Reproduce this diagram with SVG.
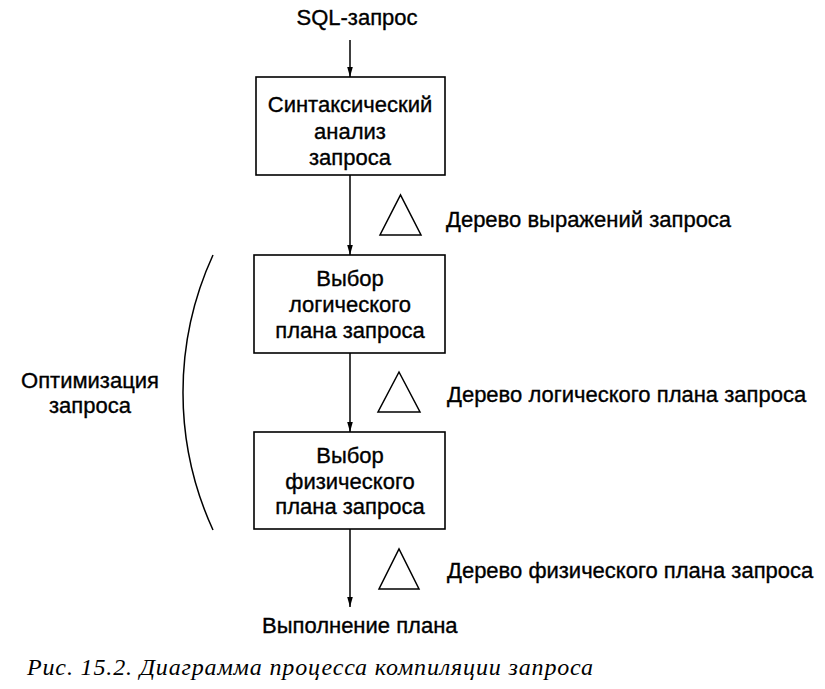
<svg xmlns="http://www.w3.org/2000/svg" width="825" height="689" viewBox="0 0 825 689">
<style>
  .box { fill: #fff; stroke: #000; stroke-width: 1.6; }
  .t { font-family: "Liberation Sans", Arial, sans-serif; font-size: 22px; fill: #000; stroke: #000; stroke-width: 0.35; }
  .c { text-anchor: middle; }
  .edge { stroke: #000; stroke-width: 1.5; fill: none; }
  .tri { fill: #fff; stroke: #000; stroke-width: 1.5; stroke-linejoin: miter; }
  .cap { font-family: "Liberation Serif", "Times New Roman", serif; font-style: italic; font-size: 24px; fill: #000; }
</style>
<defs>
  <marker id="arr" markerUnits="userSpaceOnUse" markerWidth="10" markerHeight="16" refX="15" refY="5" orient="auto" viewBox="0 0 15 10">
    <path d="M0,0.8 L15,5 L0,9.2 Z" fill="#000"/>
  </marker>
</defs>
<rect width="825" height="689" fill="#fff"/>

<g id="connectors">
  <line class="edge" x1="350" y1="40" x2="350" y2="77" marker-end="url(#arr)"/>
  <line class="edge" x1="350" y1="175" x2="350" y2="255" marker-end="url(#arr)"/>
  <line class="edge" x1="350" y1="353" x2="350" y2="432" marker-end="url(#arr)"/>
  <line class="edge" x1="350" y1="529" x2="350" y2="607" marker-end="url(#arr)"/>
</g>

<g id="input">
  <text class="t c" x="357" y="25">SQL-запрос</text>
</g>

<g id="parse">
  <rect class="box" x="256" y="77" width="189" height="98"/>
  <text class="t c" x="350" y="112">Синтаксический</text>
  <text class="t c" x="350" y="139">анализ</text>
  <text class="t c" x="350" y="165">запроса</text>
</g>

<g id="logical">
  <rect class="box" x="254" y="255" width="191" height="98"/>
  <text class="t c" x="350" y="286">Выбор</text>
  <text class="t c" x="350" y="312">логического</text>
  <text class="t c" x="350" y="338">плана запроса</text>
</g>

<g id="physical">
  <rect class="box" x="254" y="432" width="191" height="97"/>
  <text class="t c" x="350" y="463">Выбор</text>
  <text class="t c" x="350" y="489">физического</text>
  <text class="t c" x="350" y="514">плана запроса</text>
</g>

<g id="execute">
  <text class="t" x="262" y="633">Выполнение плана</text>
</g>

<g id="tree1">
  <polygon class="tri" points="380,235 421,235 400.5,195"/>
  <text class="t" x="446" y="227">Дерево выражений запроса</text>
</g>
<g id="tree2">
  <polygon class="tri" points="378,412 420,412 399,372"/>
  <text class="t" x="447" y="402">Дерево логического плана запроса</text>
</g>
<g id="tree3">
  <polygon class="tri" points="379,589 419,589 399,549"/>
  <text class="t" x="447" y="578">Дерево физического плана запроса</text>
</g>

<g id="optimization">
  <path class="edge" d="M213,255 A330,330 0 0 0 213,530"/>
  <text class="t c" x="90" y="388">Оптимизация</text>
  <text class="t c" x="90" y="413">запроса</text>
</g>

<text class="cap" x="27" y="675" textLength="566" lengthAdjust="spacing">Рис. 15.2. Диаграмма процесса компиляции запроса</text>
</svg>
